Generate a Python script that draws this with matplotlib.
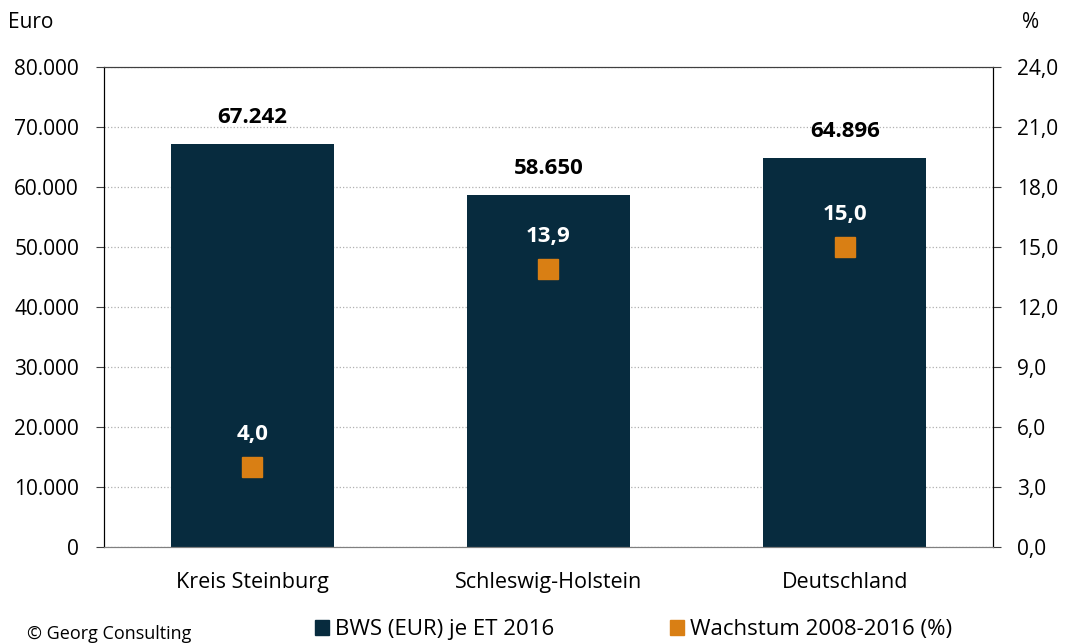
import matplotlib.pyplot as plt
from matplotlib.patches import Patch
from matplotlib.ticker import FuncFormatter

# Daten
regionen = ['Kreis Steinburg', 'Schleswig-Holstein', 'Deutschland']
bws = [67242, 58650, 64896]
wachstum = [4.0, 13.9, 15.0]

bar_farbe = '#072b3e'
punkt_farbe = '#d97f14'

plt.rcParams['font.family'] = ['Open Sans', 'DejaVu Sans']

fig = plt.figure(figsize=(10.7, 6.44), dpi=100)
ax = fig.add_axes([0.0972, 0.1506, 0.8308, 0.7454])
ax2 = ax.twinx()

x = range(len(regionen))
ax.bar(x, bws, width=0.55, color=bar_farbe, zorder=2)
ax.set_xlim(-0.5, 2.5)
ax.set_ylim(0, 80000)
ax.set_yticks(range(0, 80001, 10000))
ax.yaxis.set_major_formatter(FuncFormatter(lambda v, p: f'{int(v):,}'.replace(',', '.')))
ax.set_xticks(list(x))
ax.set_xticklabels(regionen, fontsize=15.5)
ax.tick_params(axis='x', length=0, pad=18)
ax.tick_params(axis='y', labelsize=15, length=6, color='#404040', pad=12)
ax.grid(axis='y', linestyle=':', color='#b0b0b0', linewidth=0.9, zorder=0)
ax.set_axisbelow(True)

for i, v in enumerate(bws):
    ax.text(i, v + 2600, f'{v:,}'.replace(',', '.'), ha='center', va='bottom',
            fontsize=16, fontweight='bold', color='black')

ax2.plot(list(x), wachstum, linestyle='none', marker='s', markersize=14,
         color=punkt_farbe, zorder=3)
ax2.set_ylim(0, 24)
ax2.set_yticks([0, 3, 6, 9, 12, 15, 18, 21, 24])
ax2.yaxis.set_major_formatter(FuncFormatter(lambda v, p: f'{v:.1f}'.replace('.', ',')))
ax2.tick_params(axis='y', labelsize=15, length=6, color='#404040', pad=11)

for i, v in enumerate(wachstum):
    ax2.text(i, v + 1.1, f'{v:.1f}'.replace('.', ','), ha='center', va='bottom',
             fontsize=16, fontweight='bold', color='white')

for a in (ax, ax2):
    a.spines['top'].set_color('#404040')
    a.spines['bottom'].set_color('#808080')
    a.spines['left'].set_color('black')
    a.spines['right'].set_color('black')

fig.text(0.0075, 0.965, 'Euro', fontsize=15, ha='left', va='center')
fig.text(0.963, 0.965, '%', fontsize=15, ha='center', va='center')
fig.text(0.025, 0.016, '© Georg Consulting', fontsize=13, ha='left', va='center')

handles = [Patch(color=bar_farbe, label='BWS (EUR) je ET 2016'),
           Patch(color=punkt_farbe, label='Wachstum 2008-2016 (%)')]
fig.legend(handles=handles, loc='center', bbox_to_anchor=(0.592, 0.022), ncol=2,
           frameon=False, fontsize=16, handlelength=0.65, handleheight=0.65,
           handletextpad=0.25, columnspacing=5.2)

plt.savefig('out.png', dpi=100)
